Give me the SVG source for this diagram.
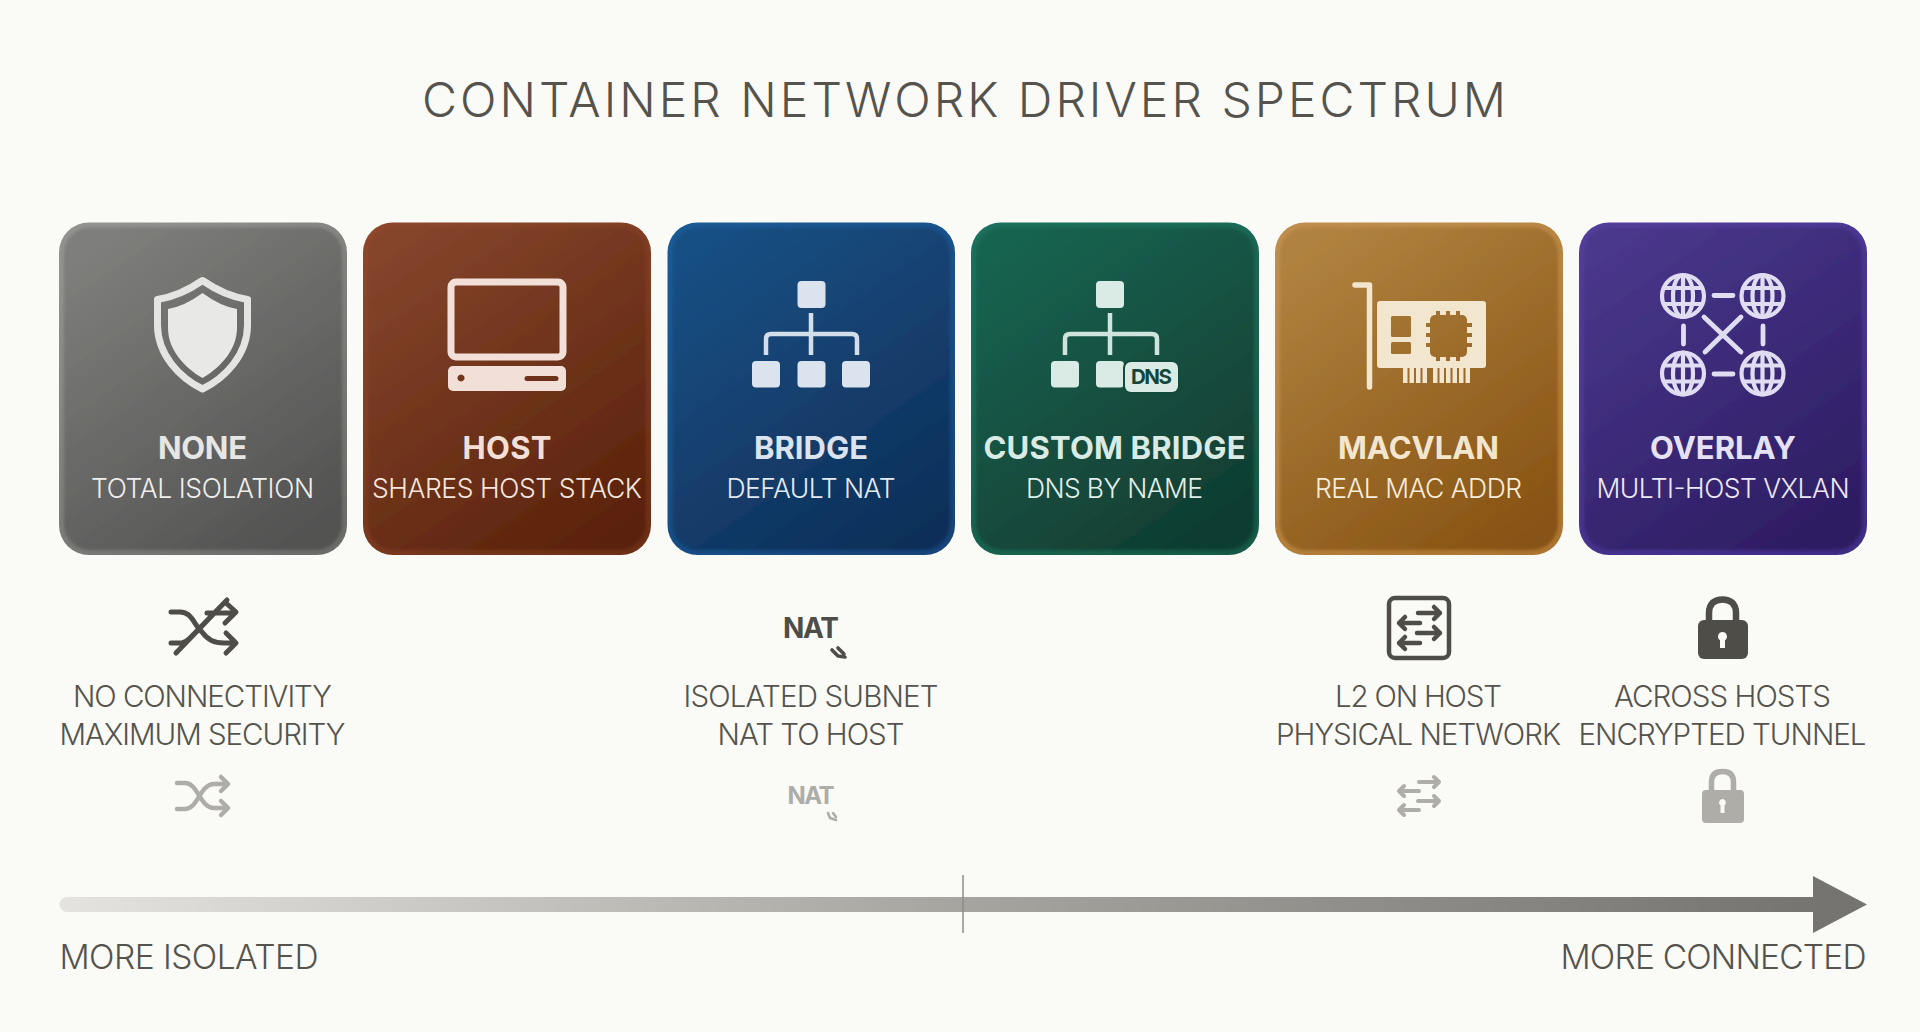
<svg xmlns="http://www.w3.org/2000/svg" width="1920" height="1032" viewBox="0 0 1920 1032">
<defs>
<style>
text{font-family:"Inter","Liberation Sans",sans-serif;text-anchor:middle}
.t{font-size:31px;font-weight:700}
.s{font-size:26.500px;font-weight:300}
.d{font-size:29.500px;font-weight:300;fill:#55534d}
.e{font-size:33.500px;font-weight:300;fill:#55534d}
.l{fill:none;stroke-linecap:round;stroke-linejoin:round}
.in{filter:url(#soft)}
</style>
<filter id="soft" x="-5%" y="-5%" width="110%" height="110%"><feGaussianBlur stdDeviation="1.600"/></filter>
<linearGradient id="b0" x1="0.200" y1="0" x2="0.800" y2="1"><stop offset="0" stop-color="#929290"/><stop offset="1" stop-color="#6c6c6a"/></linearGradient>
<linearGradient id="f0" x1="0.200" y1="0" x2="0.800" y2="1"><stop offset="0" stop-color="#7e7e7c"/><stop offset="1" stop-color="#525251"/></linearGradient>
<linearGradient id="b1" x1="0.200" y1="0" x2="0.800" y2="1"><stop offset="0" stop-color="#8c472d"/><stop offset="1" stop-color="#6e3016"/></linearGradient>
<linearGradient id="f1" x1="0.200" y1="0" x2="0.800" y2="1"><stop offset="0" stop-color="#84442b"/><stop offset="1" stop-color="#5a220b"/></linearGradient>
<linearGradient id="b2" x1="0.200" y1="0" x2="0.800" y2="1"><stop offset="0" stop-color="#1a5a95"/><stop offset="1" stop-color="#17457a"/></linearGradient>
<linearGradient id="f2" x1="0.200" y1="0" x2="0.800" y2="1"><stop offset="0" stop-color="#164f83"/><stop offset="1" stop-color="#0f2f59"/></linearGradient>
<linearGradient id="b3" x1="0.200" y1="0" x2="0.800" y2="1"><stop offset="0" stop-color="#1c705d"/><stop offset="1" stop-color="#165a47"/></linearGradient>
<linearGradient id="f3" x1="0.200" y1="0" x2="0.800" y2="1"><stop offset="0" stop-color="#196350"/><stop offset="1" stop-color="#103c30"/></linearGradient>
<linearGradient id="b4" x1="0.200" y1="0" x2="0.800" y2="1"><stop offset="0" stop-color="#bf8e4e"/><stop offset="1" stop-color="#ad7630"/></linearGradient>
<linearGradient id="f4" x1="0.200" y1="0" x2="0.800" y2="1"><stop offset="0" stop-color="#b0823f"/><stop offset="1" stop-color="#875313"/></linearGradient>
<linearGradient id="b5" x1="0.200" y1="0" x2="0.800" y2="1"><stop offset="0" stop-color="#533d9a"/><stop offset="1" stop-color="#402d86"/></linearGradient>
<linearGradient id="f5" x1="0.200" y1="0" x2="0.800" y2="1"><stop offset="0" stop-color="#49378b"/><stop offset="1" stop-color="#2d1c62"/></linearGradient>
<linearGradient id="bar" x1="0" y1="0" x2="1" y2="0"><stop offset="0" stop-color="#e4e3df"/><stop offset="0.5" stop-color="#a8a6a1"/><stop offset="1" stop-color="#757470"/></linearGradient>
<mask id="nic" maskUnits="userSpaceOnUse" x="1370" y="295" width="125" height="95">
<rect x="1370" y="295" width="125" height="95" fill="#fff"/>
<g fill="#000">
<rect x="1391" y="316" width="20" height="21" rx="1.500"/><rect x="1391" y="342" width="20" height="12" rx="1.500"/>
<rect x="1430" y="315" width="37" height="42" rx="5"/>
<rect x="1436" y="311" width="4" height="50"/><rect x="1446" y="311" width="4" height="50"/><rect x="1456" y="311" width="4" height="50"/>
<rect x="1426" y="323" width="46" height="4"/><rect x="1426" y="333" width="46" height="4"/><rect x="1426" y="343" width="46" height="4"/>
</g>
</mask>
<g id="globe" fill="none" stroke-width="4.200">
<circle r="21"/><ellipse rx="10" ry="21"/><path d="M0-21V21M-19-8H19M-19 8H19"/>
</g>
</defs>
<rect width="1920" height="1032" fill="#fafaf7"/>
<text x="964" y="117" font-size="48" font-weight="300" fill="#55534d" textLength="1084" lengthAdjust="spacing">CONTAINER NETWORK DRIVER SPECTRUM</text>

<g id="none">
<rect x="59" y="222.500" width="288" height="332.500" rx="30" fill="url(#b0)"/>
<rect class="in" x="64" y="227.500" width="278" height="322.500" rx="26" fill="url(#f0)"/>
<path class="l" stroke="#e4e4e2" stroke-width="7" d="M202.500 280.500Q180 296 157.500 299.500V325C157.500 355 180 378 202.500 389C225 378 247.500 355 247.500 325V299.500Q225 296 202.500 280.500Z"/>
<path fill="#e8e8e6" d="M202.500 293Q185 306 168 309V328C168 350 185 368 202.500 378C220 368 237 350 237 328V309Q220 306 202.500 293Z"/>
<text class="t" x="202.500" y="459" fill="#e6e6e4" textLength="89">NONE</text>
<text class="s" x="202.500" y="498" fill="#efefed" textLength="223">TOTAL ISOLATION</text>
</g>

<g id="host">
<rect x="363" y="222.500" width="288" height="332.500" rx="30" fill="url(#b1)"/>
<rect class="in" x="368" y="227.500" width="278" height="322.500" rx="26" fill="url(#f1)"/>
<rect x="451" y="282" width="112" height="75" rx="5" fill="none" stroke="#f2dfd7" stroke-width="7"/>
<path fill="#f2dfd7" fill-rule="evenodd" d="M453 366H561a5 5 0 0 1 5 5V386a5 5 0 0 1-5 5H453a5 5 0 0 1-5-5V371a5 5 0 0 1 5-5ZM461 374.500a3.500 3.500 0 1 0 .01 0ZM527 376a2.500 2.500 0 0 0 0 5H556a2.500 2.500 0 0 0 0-5Z"/>
<text class="t" x="507" y="459" fill="#f2dfd7" textLength="89">HOST</text>
<text class="s" x="507" y="498" fill="#f5e6df" textLength="270">SHARES HOST STACK</text>
</g>

<g id="bridge">
<rect x="667.500" y="222.500" width="287.500" height="332.500" rx="30" fill="url(#b2)"/>
<rect class="in" x="672.500" y="227.500" width="277.500" height="322.500" rx="26" fill="url(#f2)"/>
<g fill="#dbe3ee">
<rect x="797.500" y="281" width="28" height="27" rx="4"/>
<rect x="752" y="361" width="28" height="26.500" rx="4"/>
<rect x="797.500" y="361" width="28" height="26.500" rx="4"/>
<rect x="842" y="361" width="28" height="26.500" rx="4"/>
</g>
<path class="l" stroke="#d3deeb" stroke-width="4.500" d="M811 313V355M766 355V339Q766 334 771 334H852Q857 334 857 339V355" style="stroke-linecap:butt"/>
<text class="t" x="811" y="459" fill="#dbe3ee" textLength="114">BRIDGE</text>
<text class="s" x="811" y="498" fill="#e4eaf2" textLength="169">DEFAULT NAT</text>
</g>

<g id="custom-bridge">
<rect x="971" y="222.500" width="288" height="332.500" rx="30" fill="url(#b3)"/>
<rect class="in" x="976" y="227.500" width="278" height="322.500" rx="26" fill="url(#f3)"/>
<g fill="#d9ebe4">
<rect x="1096" y="281" width="28" height="27" rx="4"/>
<rect x="1051" y="361" width="28" height="26.500" rx="4"/>
<rect x="1096" y="361" width="28" height="26.500" rx="4"/>
</g>
<rect x="1123" y="360" width="57" height="34" rx="8" fill="#124a3c"/>
<rect x="1125" y="362" width="53" height="30" rx="6" fill="#d9ebe4"/>
<path class="l" stroke="#cfe4dc" stroke-width="4.500" d="M1110 313V355M1065 355V339Q1065 334 1070 334H1152Q1157 334 1157 339V355" style="stroke-linecap:butt"/>
<text x="1151.500" y="384" font-size="20.500" font-weight="700" fill="#12463a" textLength="41">DNS</text>
<text class="t" x="1114.500" y="459" fill="#d9ebe4" textLength="262">CUSTOM BRIDGE</text>
<text class="s" x="1114.500" y="498" fill="#e1efe9" textLength="177">DNS BY NAME</text>
</g>

<g id="macvlan">
<rect x="1275" y="222.500" width="288" height="332.500" rx="30" fill="url(#b4)"/>
<rect class="in" x="1280" y="227.500" width="278" height="322.500" rx="26" fill="url(#f4)"/>
<path class="l" stroke="#f3e6cf" stroke-width="5.500" d="M1355 285H1369.500V387"/>
<rect x="1377" y="301" width="109" height="67" rx="3" fill="#f3e6cf" mask="url(#nic)"/>
<path fill="#f3e6cf" d="M1403 366h4.500v17h-4.500zM1409.500 366h4.500v17h-4.500zM1416 366h4.500v17h-4.500zM1422.500 366h4.500v17h-4.500zM1433 366h4.500v17h-4.500zM1439.500 366h4.500v17h-4.500zM1446 366h4.500v17h-4.500zM1452.500 366h4.500v17h-4.500zM1459 366h4.500v17h-4.500zM1465.500 366h4.500v17h-4.500z"/>
<text class="t" x="1418.500" y="459" fill="#f3e6cf" textLength="161">MACVLAN</text>
<text class="s" x="1418.500" y="498" fill="#f7eddd" textLength="207">REAL MAC ADDR</text>
</g>

<g id="overlay">
<rect x="1579" y="222.500" width="288" height="332.500" rx="30" fill="url(#b5)"/>
<rect class="in" x="1584" y="227.500" width="278" height="322.500" rx="26" fill="url(#f5)"/>
<g stroke="#e0dcf2">
<use href="#globe" x="1683" y="296"/><use href="#globe" x="1762.500" y="296"/>
<use href="#globe" x="1683" y="373.500"/><use href="#globe" x="1762.500" y="373.500"/>
</g>
<path class="l" stroke="#e0dcf2" stroke-width="4.800" d="M1714 295.500H1733M1714 374H1733M1683.500 326V344M1763 326V344M1704 317L1741 352M1741 317L1705 352"/>
<text class="t" x="1723" y="459" fill="#e6e2f5" textLength="146">OVERLAY</text>
<text class="s" x="1723" y="498" fill="#ebe8f7" textLength="253">MULTI-HOST VXLAN</text>
</g>

<g id="note-none">
<path class="l" stroke="#4f4d47" stroke-width="5" d="M171 612H180C192 612 194 625 202 632C208 640 214 643 224 643H235M226 633L236 643L226 653M171 643H182Q186 642 190 638L226 601M176 653L227 600M207 613H234M226 603L236 612L225 623"/>
<text class="d" x="202.500" y="707" textLength="259">NO CONNECTIVITY</text>
<text class="d" x="202.500" y="745" textLength="286">MAXIMUM SECURITY</text>
<path class="l" stroke="#aeada7" stroke-width="4.500" d="M177 783H185C198 783 200 808 214 808H227M221 801L228 808L221 815M177 809H185C198 809 200 784 214 784H227M221 777L228 784L221 791"/>
</g>

<g id="note-bridge">
<text x="811" y="638" font-size="28" font-weight="700" fill="#4f4d47" textLength="56">NAT</text>
<path class="l" stroke="#4f4d47" stroke-width="3.600" d="M832 650L838 656L845 657M838 648L844 654"/>
<text class="d" x="811" y="707" textLength="255">ISOLATED SUBNET</text>
<text class="d" x="811" y="745" textLength="187">NAT TO HOST</text>
<text x="811" y="804" font-size="24" font-weight="700" fill="#aeada7" textLength="47">NAT</text>
<path class="l" stroke="#aeada7" stroke-width="2.600" d="M828 813L830 818L836 820M833 813L836 817"/>
</g>

<g id="note-macvlan">
<rect x="1389" y="598" width="60" height="60" rx="6" fill="none" stroke="#4f4d47" stroke-width="4.500"/>
<path class="l" stroke="#4f4d47" stroke-width="4.500" d="M1418 613H1440M1434 607L1440 613L1434 619M1420 623H1399M1405 617L1399 623L1405 629M1417 633H1440M1434 627L1440 633L1434 639M1420 643H1399M1405 637L1399 643L1405 649"/>
<text class="d" x="1418.500" y="707" textLength="167">L2 ON HOST</text>
<text class="d" x="1418.500" y="745" textLength="285">PHYSICAL NETWORK</text>
<path class="l" stroke="#aeada7" stroke-width="4" d="M1419 782H1439M1434 777L1439 782L1434 787M1419 791H1399M1404 786L1399 791L1404 796M1418 801H1439M1434 796L1439 801L1434 806M1419 810H1399M1404 805L1399 810L1404 815"/>
</g>

<g id="note-overlay">
<path fill="none" stroke="#4f4d47" stroke-width="6.500" d="M1709 622V613C1709 603 1715 599.500 1722.500 599.500C1730 599.500 1736 603 1736 613V622"/>
<rect x="1698" y="620" width="50" height="39" rx="6" fill="#4f4d47"/>
<path fill="#fafaf7" d="M1722.500 632a4.500 4.500 0 0 1 2.500 8.200L1725 648H1720L1720 640.200a4.500 4.500 0 0 1 2.500-8.200Z"/>
<text class="d" x="1722.500" y="707" textLength="217">ACROSS HOSTS</text>
<text class="d" x="1722.500" y="745" textLength="288">ENCRYPTED TUNNEL</text>
<path fill="none" stroke="#aeada7" stroke-width="5.500" d="M1711.500 792V782C1711.500 774 1716 771.500 1722.500 771.500C1729 771.500 1733.500 774 1733.500 782V792"/>
<rect x="1702" y="790" width="42" height="33" rx="4" fill="#aeada7"/>
<path fill="#fafaf7" d="M1722.500 799a3.500 3.500 0 0 1 2 6.300L1724.500 813H1720.500L1720.500 805.300a3.500 3.500 0 0 1 2-6.300Z"/>
</g>

<g id="connectors">
<path fill="url(#bar)" d="M67 897H1816V912H67a7.500 7.500 0 0 1 0-15Z"/>
<path fill="#757470" d="M1813 876L1867 904.500L1813 933Z"/>
<path stroke="#8f8d88" stroke-width="1.500" d="M963 875V933"/>
</g>

<g id="scale-labels">
<text class="e" style="text-anchor:start" x="59.500" y="969" textLength="259">MORE ISOLATED</text>
<text class="e" style="text-anchor:end" x="1866.500" y="969" textLength="306">MORE CONNECTED</text>
</g>
</svg>
